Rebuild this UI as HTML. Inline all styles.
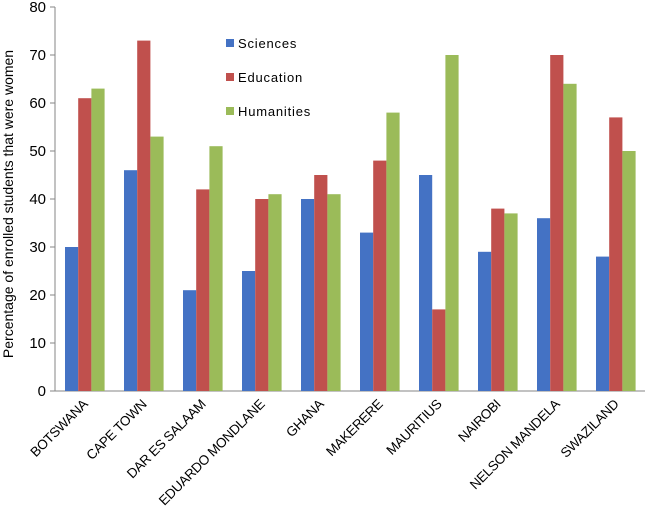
<!DOCTYPE html>
<html><head><meta charset="utf-8"><style>
body{margin:0;background:#fff;}
svg text{font-family:"Liberation Sans",sans-serif;}
</style></head><body>
<svg id="chart" width="650" height="507"></svg>
<script>
const categories=["BOTSWANA","CAPE TOWN","DAR ES SALAAM","EDUARDO MONDLANE","GHANA","MAKERERE","MAURITIUS","NAIROBI","NELSON MANDELA","SWAZILAND"];
const sciences=[30,46,21,25,40,33,45,29,36,28];
const education=[61,73,42,40,45,48,17,38,70,57];
const humanities=[63,53,51,41,41,58,70,37,64,50];
const yTicks=[0,10,20,30,40,50,60,70,80];
const seriesNames=["Sciences","Education","Humanities"];
const colors=["#4472C4","#C0504D","#9BBB59"];
const svg=document.getElementById('chart');
const NS="http://www.w3.org/2000/svg";
const x0=55,x1=645,yb=391,yt=7;
const y=v=>yb-(v/80)*(yb-yt);
const pitch=(x1-x0)/categories.length;
const bw=13.2;
function mk(t,a){const e=document.createElementNS(NS,t);for(const k in a)e.setAttribute(k,a[k]);svg.appendChild(e);return e;}
let ax=mk('line',{x1:x0,y1:yt,x2:x0,y2:yb,stroke:'#868686'});


let bx=mk('line',{x1:x0,y1:yb,x2:x1,y2:yb,stroke:'#868686'});


yTicks.forEach(v=>{
 const tk=mk('line',{x1:x0-5,y1:y(v),x2:x0,y2:y(v),stroke:'#868686'});
 
 
 const t=mk('text',{x:x0-9,y:y(v)+5,'text-anchor':'end','font-size':'15',fill:'#000'});
 t.textContent=v;
 
 
});
const series=[sciences,education,humanities];
categories.forEach((c,i)=>{
 const gx=x0+i*pitch;
 series.forEach((s,j)=>{
  const r=mk('rect',{x:gx+10+j*bw,y:y(s[i]),width:bw,height:yb-y(s[i]),fill:colors[j]});
  
  
 });
 const cx=gx+pitch/2+4;
 const t=mk('text',{x:cx,y:yb+14,'text-anchor':'end','font-size':'13.5',fill:'#000','letter-spacing':'-0.3',transform:`rotate(-45 ${cx} ${yb+14})`});
 t.textContent=c;
 
 
});
seriesNames.forEach((n,j)=>{
 const ly=45+j*34;
 const r=mk('rect',{x:226,y:ly-6,width:8,height:8,fill:colors[j]});
 
 
 const t=mk('text',{x:238,y:ly+3,'font-size':'13',fill:'#000','letter-spacing':'0.8'});
 t.textContent=n;
 
 
});
const yl=mk('text',{x:13,y:204,'text-anchor':'middle','font-size':'14',fill:'#000',transform:'rotate(-90 13 204)'});
yl.textContent="Percentage of enrolled students that were women";


</script>
</body></html>
